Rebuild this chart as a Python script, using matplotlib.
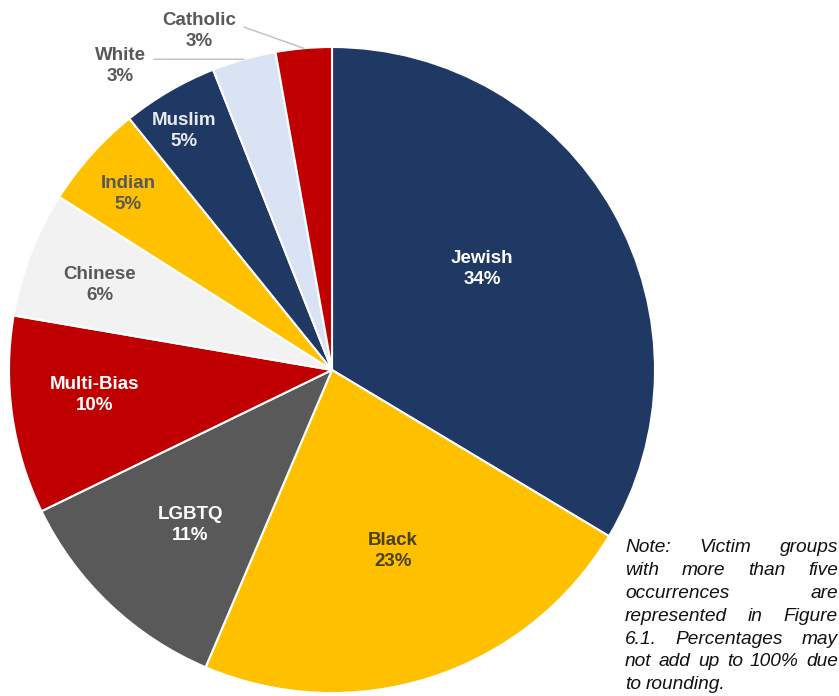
import matplotlib
matplotlib.use('Agg')
import matplotlib.pyplot as plt
import numpy as np

plt.rcParams['font.family'] = ['Liberation Sans', 'DejaVu Sans']

# victim groups, clockwise from 12 o'clock
groups = ['Jewish', 'Black', 'LGBTQ', 'Multi-Bias', 'Chinese', 'Indian', 'Muslim', 'White', 'Catholic']
shares = [33.6, 22.8, 11.4, 9.9, 6.3, 5.2, 4.8, 3.2, 2.8]
pct_labels = ['34%', '23%', '11%', '10%', '6%', '5%', '5%', '3%', '3%']

colors = ['#203864', '#FFC000', '#595959', '#C00000', '#F2F2F2',
          '#FFC000', '#203864', '#DAE3F3', '#C00000']
text_colors = ['white', '#4A4020', 'white', 'white', '#595959',
               '#595959', '#E8EAF2', '#595959', '#595959']
# label placement: fraction of radius, angle nudge in degrees
label_r = [0.56, 0.59, 0.65, 0.74, 0.765, 0.835, 0.87, None, None]
label_nudge = [4.5, 0.6, 1.1, -2.1, 1.0, 0.9, 1.6, 0, 0]
outside_pos = {'White': (120, 630), 'Catholic': (199, 665)}

note_lines = [
    ['Note:', 'Victim', 'groups'],
    ['with', 'more', 'than', 'five'],
    ['occurrences', 'are'],
    ['represented', 'in', 'Figure'],
    ['6.1.', 'Percentages', 'may'],
    ['not', 'add', 'up', 'to', '100%', 'due'],
    ['to', 'rounding.'],
]

fig = plt.figure(figsize=(8.39, 6.96), dpi=100)
ax = fig.add_axes([0, 0, 1, 1])

cx, cy, R = 332, 326, 323
wedges, _ = ax.pie(shares, colors=colors, startangle=90, counterclock=False,
                   center=(cx, cy), radius=R,
                   wedgeprops=dict(edgecolor='white', linewidth=1.5))
ax.set_xlim(0, 839)
ax.set_ylim(0, 696)
ax.set_aspect('auto')
ax.axis('off')

for w, g, p, tc, fr, nd in zip(wedges, groups, pct_labels, text_colors, label_r, label_nudge):
    ang = np.deg2rad((w.theta1 + w.theta2) / 2 + nd)
    label = f'{g}\n{p}'
    if fr is not None:
        ax.text(cx + R * fr * np.cos(ang), cy + R * fr * np.sin(ang), label,
                ha='center', va='center', fontsize=13.5, fontweight='bold',
                color=tc, linespacing=1.3)
    else:
        ex, ey = cx + R * np.cos(ang), cy + R * np.sin(ang)
        tx, ty = outside_pos[g]
        ax.annotate(label, xy=(ex, ey), xytext=(tx, ty),
                    ha='center', va='center', fontsize=13.5, fontweight='bold',
                    color=tc, linespacing=1.3,
                    arrowprops=dict(arrowstyle='-', color='#BFBFBF', lw=1,
                                    shrinkA=4, shrinkB=0,
                                    relpos=(1.0, 0.68)))

# justified italic note
renderer = fig.canvas.get_renderer()
left, right = 625, 838
y0, dy = 148, 22.8
for i, words in enumerate(note_lines):
    y = y0 - i * dy
    texts = [ax.text(0, y, wd, fontsize=13.8, style='italic', color='#111111',
                     ha='left', va='center') for wd in words]
    widths = [t.get_window_extent(renderer).width for t in texts]
    if i == len(note_lines) - 1:
        gap = 5
    else:
        gap = (right - left - sum(widths)) / (len(words) - 1)
    x = left
    for t, wdt in zip(texts, widths):
        t.set_x(x)
        x += wdt + gap

fig.savefig('out.png', dpi=100)
